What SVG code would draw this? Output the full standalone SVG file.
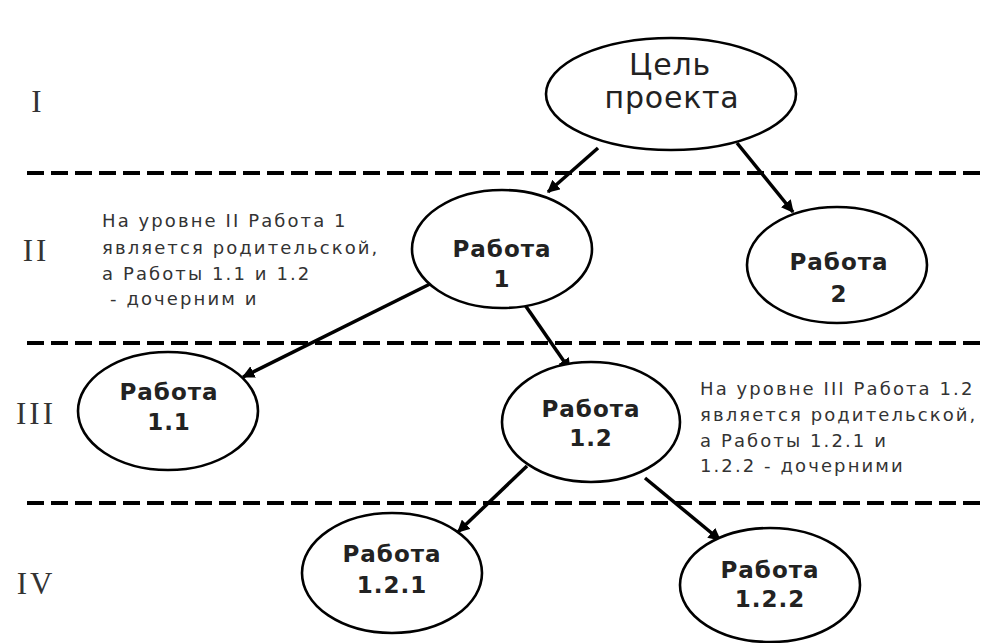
<svg xmlns="http://www.w3.org/2000/svg" width="984" height="643" viewBox="0 0 984 643">
<style>
.node ellipse{fill:#fff;stroke:#000;stroke-width:2.6}
.lbl{font-family:"DejaVu Sans","Verdana",sans-serif;font-weight:bold;font-size:23px;fill:#222;text-anchor:middle;letter-spacing:1px}
.goal{font-family:"DejaVu Sans","Verdana",sans-serif;font-size:30px;fill:#222;text-anchor:middle;letter-spacing:0.8px}
.note{font-family:"DejaVu Sans","Verdana",sans-serif;font-size:18px;fill:#333;letter-spacing:2.1px}
.roman{font-family:"Liberation Serif","Times New Roman",serif;font-size:31px;fill:#333;text-anchor:middle;letter-spacing:3px}
.dash{stroke:#000;stroke-width:4;stroke-dasharray:17 7;fill:none}
.conn line{stroke:#000;stroke-width:3.5;marker-end:url(#arr)}
</style>
<defs>
<marker id="arr" viewBox="0 0 10 10" refX="9" refY="5" markerWidth="3.6" markerHeight="3.6" orient="auto">
<path d="M0,0 L10,5 L0,10 z" fill="#000"/>
</marker>
</defs>
<rect width="984" height="643" fill="#fff"/>
<g id="levels">
<line class="dash" x1="27" y1="173" x2="984" y2="173"/>
<line class="dash" x1="27" y1="343" x2="984" y2="343"/>
<line class="dash" x1="27" y1="503" x2="984" y2="503"/>
<text class="roman" x="38" y="112">I</text>
<text class="roman" x="36" y="261">II</text>
<text class="roman" x="36" y="424">III</text>
<text class="roman" x="36" y="594">IV</text>
</g>
<g id="connectors" class="conn">
<line x1="598" y1="148" x2="548" y2="192"/>
<line x1="737" y1="143" x2="793" y2="212"/>
<line x1="430" y1="284" x2="243" y2="377"/>
<line x1="525" y1="305" x2="570" y2="370"/>
<line x1="527" y1="466" x2="458" y2="532"/>
<line x1="645" y1="478" x2="720" y2="540"/>
</g>
<g id="goal" class="node">
<ellipse cx="671" cy="94" rx="125" ry="56"/>
<text class="goal" x="670" y="75">Цель</text>
<text class="goal" x="672" y="108">проекта</text>
</g>
<g id="w1" class="node">
<ellipse cx="502" cy="249" rx="90" ry="59"/>
<text class="lbl" x="502" y="257">Работа</text>
<text class="lbl" x="502" y="287">1</text>
</g>
<g id="w2" class="node">
<ellipse cx="837" cy="265" rx="90" ry="58"/>
<text class="lbl" x="839" y="270">Работа</text>
<text class="lbl" x="839" y="302">2</text>
</g>
<g id="w11" class="node">
<ellipse cx="168" cy="411" rx="90" ry="59"/>
<text class="lbl" x="169" y="400">Работа</text>
<text class="lbl" x="169" y="430">1.1</text>
</g>
<g id="w12" class="node">
<ellipse cx="591" cy="422" rx="89" ry="60"/>
<text class="lbl" x="591" y="417">Работа</text>
<text class="lbl" x="591" y="446">1.2</text>
</g>
<g id="w121" class="node">
<ellipse cx="392" cy="573" rx="90" ry="60"/>
<text class="lbl" x="392" y="562">Работа</text>
<text class="lbl" x="392" y="593">1.2.1</text>
</g>
<g id="w122" class="node">
<ellipse cx="770" cy="585" rx="90" ry="57"/>
<text class="lbl" x="770" y="578">Работа</text>
<text class="lbl" x="770" y="607">1.2.2</text>
</g>
<g id="note2">
<text class="note" x="102" y="227">На уровне II Работа 1</text>
<text class="note" x="102" y="254">является родительской,</text>
<text class="note" x="102" y="280">а Работы 1.1 и 1.2</text>
<text class="note" x="110" y="305">- дочерним и</text>
</g>
<g id="note3">
<text class="note" x="700" y="395">На уровне III Работа 1.2</text>
<text class="note" x="700" y="421">является родительской,</text>
<text class="note" x="700" y="447">а Работы 1.2.1 и</text>
<text class="note" x="700" y="472">1.2.2 - дочерними</text>
</g>
</svg>
